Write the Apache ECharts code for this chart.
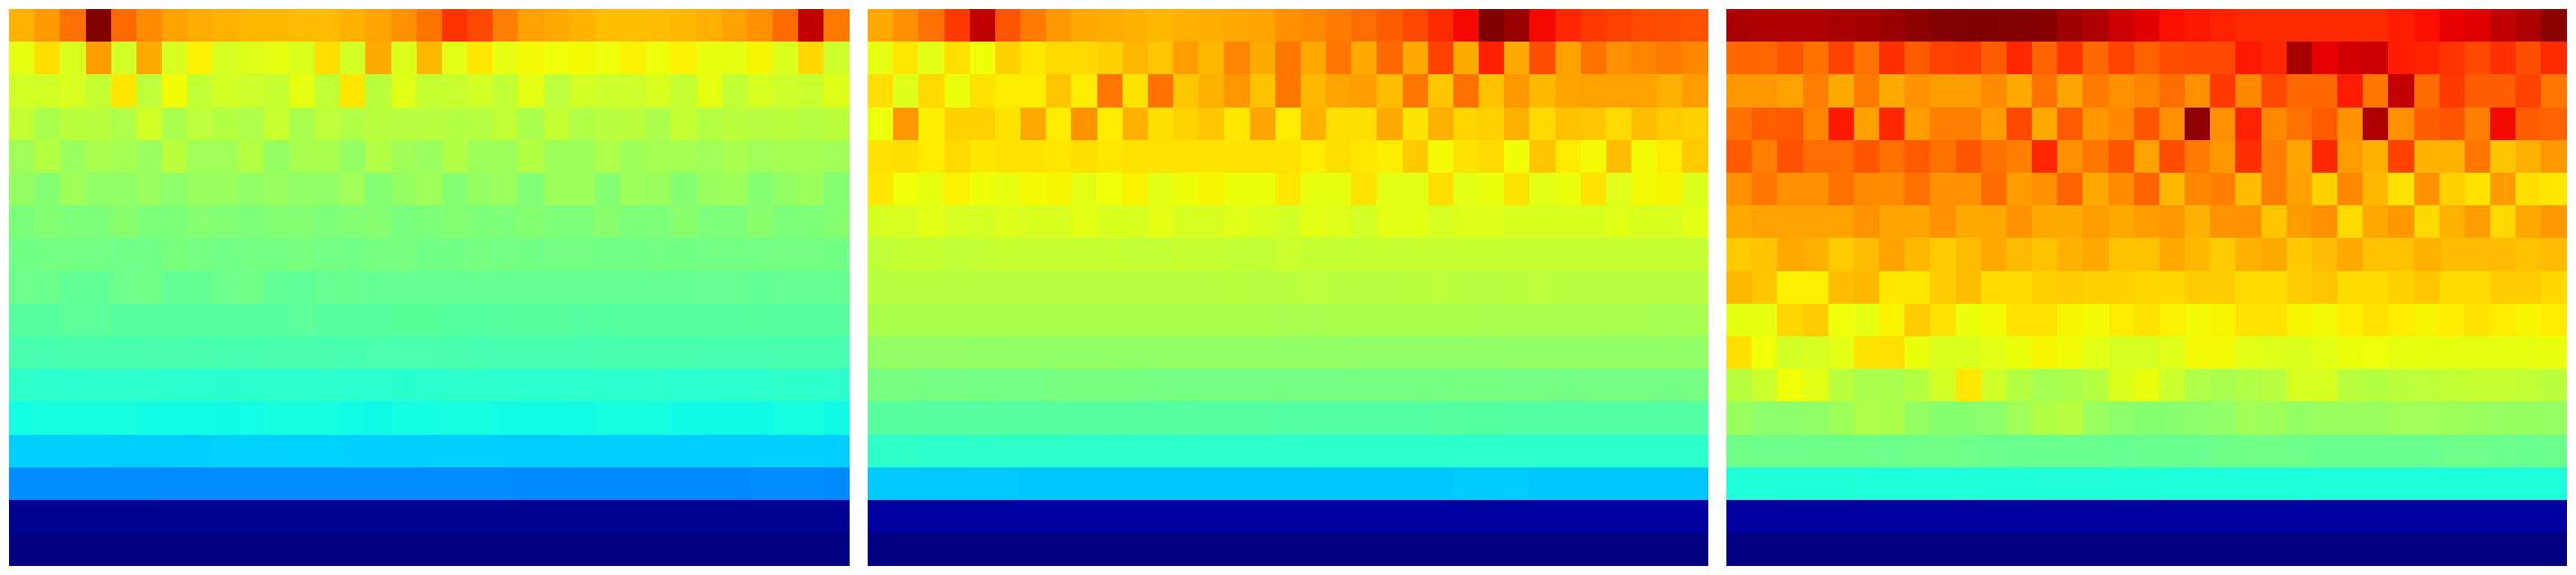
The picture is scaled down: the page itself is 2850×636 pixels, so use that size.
<!DOCTYPE html>
<html>
<head>
<meta charset="utf-8">
<style>html,body{margin:0;padding:0;background:#fff}#c{width:2850px;height:636px}#c svg path{shape-rendering:crispEdges}</style>
<script src="https://cdn.jsdelivr.net/npm/echarts@6/dist/echarts.min.js"></script>
</head>
<body>
<div id="c"></div>
<script>
const panelA = [
[72,74.7,79,100,79.8,76.2,74,72.9,72,71.5,71.5,71.2,71.2,72.4,73.6,75.8,78.7,85.6,83.4,77.5,74,73.2,72,70.9,70.9,71,71.5,72.4,74,75.8,79.8,94.5,78.3],
[63,67.5,61.5,74.5,60.5,73,61,65.5,61,62,63,61.5,67.5,60.5,73,61.5,71.5,62.5,66.5,63,64.5,64,64.5,63.8,65.5,63.8,65.5,63.3,63,65,61.5,68,59.8],
[60.5,60.5,61.3,59,66.5,58,64.3,58.5,60.5,59.7,59,63,58.5,66.5,57.7,62.3,59,59.3,60.5,58.5,62.7,58,60.5,59.7,59.7,61.3,58.7,63,58.5,61,59.7,59.3,62.3],
[59,55.5,57.7,57.5,56,60.5,55.5,58,57,56,59.2,55.5,58,56.5,57.5,57.2,57.5,57,57,58.5,55.5,59,56.5,57.2,57.7,55.7,58.7,56.7,57.7,57.3,57.7,56.7,57.7],
[54.5,57,53.5,55.5,55,53.5,57.7,54.5,54.5,57,53,55.5,55.5,53,56.5,54.5,53.5,56.5,54,54,57,54,54,56,54,55,55,54.5,55.5,54.5,55,55,54.5],
[53,51,54.5,52.5,52.5,53.5,52,53.5,53.5,52.5,53.5,52.5,52.5,54.5,51,53,54.5,51,53,53.5,50.5,54,54,51,54,53.5,51,53.5,54,51.3,53,54,51],
[50,51,50.3,50.3,51.7,50.2,50.2,51.3,50.7,50.3,51,51,50.2,50.8,51.3,49.8,50.3,51,50.2,50.2,51.2,50.2,50.2,51.7,50.2,50.2,51.7,50.2,50.2,51.7,50.2,50.2,51.2],
[48.7,49,49,49,48.5,48.5,49.7,49.1,48.6,49,49,49.6,49,48.6,49.4,49.6,48.6,48.7,49.4,49,48.9,49.2,49.2,48.6,48.6,49,48.9,49,49,49,49.2,49.2,48.8],
[48.3,48,46.7,46.7,48.3,48.5,47,47,48.3,48.5,46.7,46.5,47.5,47.7,47.4,47.4,47.4,47.4,47.4,47.4,47.4,47.4,47.4,47.3,47.3,47.3,47.3,47.5,47.5,46.8,47.2,47.3,47.3],
[45.5,45.5,46.3,46.3,45.7,45.5,45.8,45.8,45.5,45.5,45.5,46.2,45.6,45.6,45.8,46,46,45.3,45.3,45.5,45.9,45.9,45.4,45.3,45.6,45.6,45.5,45.5,45.5,45.9,45.6,45.6,45.6],
[43.8,43.6,43.7,43.8,43.8,43.9,43.9,43.7,43.5,43.6,43.9,43.9,43.7,43.6,44.1,44,44,43.8,43.5,43.5,43.5,43.6,43.6,43.7,43.7,43.7,43.7,43.6,43.6,43.6,43.8,43.8,43.8],
[40.6,40.4,40.3,40.4,40.4,40.5,40.1,40.1,40,40.3,40.4,40.3,40.5,40.1,40.1,39.9,40.3,40.5,40.5,40.4,40.1,40.1,40.4,40.2,40.2,40.4,40.1,40.1,40.3,40.4,40.6,40.6,40.4],
[37.4,37.8,37.8,37.8,37.8,37.2,37.2,37.2,37,37.3,37.8,37.8,37.6,37.2,36.9,37.4,37.4,37.7,37.7,37.1,37.1,37.1,37.1,37.6,37.6,37.6,37,37,37,37,37.6,37.6,37],
[32.9,32.9,32.9,32.8,32.7,32.7,32.7,32.8,33,33,33,33.1,33.1,32.9,32.9,32.9,32.8,32.8,32.8,32.8,32.8,32.8,32.9,32.9,32.9,32.9,32.9,32.8,32.8,32.8,32.8,32.8,32.8],
[26.3,26.3,26.3,26.3,26.3,26.3,26.2,26.2,26.2,26.1,26.1,26.1,26.1,26.1,26.1,26.2,26.2,26.2,26.2,26.2,25.9,25.9,25.9,25.9,25.9,25.9,25.9,25.9,25.9,26.1,26.1,26.1,26],
[1.5,1.5,1.5,1.5,1.5,1.5,1.5,1.5,1.5,1.5,1.5,1.5,1.5,1.5,1.5,1.5,1.5,1.5,1.5,1.5,1.5,1.5,1.5,1.5,1.5,1.5,1.5,1.5,1.5,1.5,1.5,1.5,1.5],
[0,0,0,0,0,0,0,0,0,0,0,0,0,0,0,0,0,0,0,0,0,0,0,0,0,0,0,0,0,0,0,0,0]
];
const panelB = [
[73.2,75.8,79,85,94.5,82,78,75,73.2,72.8,72.4,71.5,72.4,72.6,73.2,73.6,75.8,76.6,78,79.6,81,83.4,86.5,90,100,97.8,90,87,85,84,83,82.8,82.4],
[63,66.5,62.5,67.5,64,69,66.5,68,68,69,71.5,70,74.5,71.5,77,73,78.5,73.2,78.5,73.2,80,73,84,73,87.5,73,82.8,74,79,75.8,77,78,76.6],
[67.5,62,68,63.5,67,65.8,65.8,70,65.8,78.5,67,79,70,72.4,75,70.5,78.5,71.5,73.6,74.5,71,78.5,70,79,70.5,75,71.5,73.6,74,74,74,72.4,74.5],
[63.8,75,65.8,69,69,67,73.2,66,75.5,66,72.4,67.5,68.5,70,66.5,73.6,66,72.4,67.5,67.5,73,67,72.4,68.5,69,72.4,68,70.5,70,68,71,69.5,69],
[67,67.5,66,68,66.5,67,67,66.5,67.5,66.5,67,67,67,67,67,67,67,66,67.5,66.5,65.8,69.5,64.5,67,68,64,70,66,64.5,71,64.5,66,69.5],
[66.5,64,63,65.5,64,63.2,64.5,65,62.5,64,65.3,62.5,64,65,63.5,63.5,66.5,63,63,67,62.5,62.5,67.5,62.5,63.5,67,62.5,63.5,67,62,64.5,65,61.5],
[61,61,62.5,61,60.8,62,61.3,61.3,62.7,61.3,61.3,62.7,61,61,62.3,61.6,60.5,62.5,62,60.5,62.5,62.5,61,62,62,61.3,61.3,61.3,61.3,62.3,61.3,61.3,62.5],
[58.2,58.8,58.8,58.2,58.7,59,59,59,59,59,58.6,58.6,59,59,58.5,58.5,59.5,58.7,58.7,59,59,59,59,59,59,59,59,59,59,59,59,59,59],
[57.3,57.5,57.5,57.5,57.5,57.5,57.5,57.5,57.5,57.5,57.5,57.5,57.5,57.6,57.7,57.5,57.7,57.9,57.5,57.5,57.5,57.7,57.9,57.5,57.5,57.7,57.9,57.5,57.5,57.5,57.5,57.5,57.5],
[55.7,55.7,55.7,55.7,55.7,55.7,55.5,55.5,55.5,55.5,55.6,55.6,55.6,55.6,55.6,55.6,55.4,55.3,55.6,55.6,55.6,55.6,55.6,55.6,55.4,55.4,55.4,55.4,55.4,55.3,55.3,55,55.3],
[52.9,52.9,52.9,52.9,52.7,52.7,52.7,52.7,52.7,52.7,52.8,52.8,52.8,52.8,52.8,52.8,52.8,52.8,52.8,52.6,52.6,52.6,52.6,52.6,52.6,52.7,52.7,52.7,52.7,52.8,52.8,52.7,52.7],
[49.6,49.6,49.3,49.3,49,49,49,49.6,49.6,49.6,49.5,49.3,49.3,49.3,49.3,49.2,49.2,49.2,49.2,49.2,49.2,49.2,49.2,49.4,49.4,49.2,49.2,49,49.2,49.2,49.2,49,49.2],
[45.6,45.6,45.5,45.5,45.6,45.5,45.5,45.5,45.4,45.4,45.4,45.4,45.6,45.4,45.4,45.4,45.2,45.2,45.2,45.2,45.2,45.2,45.4,45.3,45.3,45.2,45.2,45.2,45.2,45.2,45.2,45.2,45.2],
[40.6,40.6,40.4,40.4,40.5,40.5,40.5,40.5,40.5,40.5,40.4,40.4,40.4,40.4,40.4,40.4,40.4,40.3,40.3,40.3,40.3,40.3,40.3,40.3,40.3,40.3,40.3,40.3,40.3,40.3,40.3,40.3,40.3],
[32.2,32.2,32.2,32.2,32.2,32.2,32.1,32.1,32.1,32.1,32.1,32.1,32.1,32.1,32.1,32.1,32.1,32.1,32.1,32.1,32.1,32.1,32.1,32.5,32.5,32.5,32.1,32.1,32.1,32.1,32.1,32.1,32.1],
[2.8,2.8,2.8,2.8,2.8,2.8,2.8,2.8,2.8,2.8,2.8,2.8,2.8,2.8,2.8,2.8,2.8,2.8,2.8,2.8,2.8,2.8,2.8,2.8,2.8,2.8,2.8,2.8,2.8,2.8,2.8,2.8,2.8],
[0,0,0,0,0,0,0,0,0,0,0,0,0,0,0,0,0,0,0,0,0,0,0,0,0,0,0,0,0,0,0,0,0]
];
const panelC = [
[96.5,96,96,96,96.5,96.8,97.8,99,99.8,100,100,99.8,99.5,97.3,96,93.4,91.7,89.3,88.5,87.5,86.5,86.5,86.5,86.5,86.5,86.5,88,89.3,91,92,94.5,96,99],
[80,80,82,79,84,79,86,81.5,84,84.6,81.5,87,80.6,85.5,80,83.8,80.6,82.8,83.4,83.4,88.5,87,96.5,91,93,93.4,88,87.5,85.5,83.4,86,82.8,86.5],
[75,75,74,77.5,73,78,73,75.5,74.5,74.5,76.2,73.2,79,73.6,78,75.8,77,79.6,75.8,85,76.6,83.4,80,80,88,78.5,94.2,79.6,85,81,81,84,78.5],
[79,81,81.5,77,88.5,74,87,74.5,77.5,77.5,74.5,83.4,73.2,81.5,75,76.6,82,75.8,98.6,75.8,87.5,76.6,79,81.5,75.5,96,75.8,81,82,77.5,90,81,80.6],
[81.5,77.5,82.4,79.6,79.6,82,79,81.5,79,82,79,77.5,87,75.8,78.5,82,74,83,78,75,86,77.5,73.6,87,74.5,72.4,84,72,72,78.5,70,72.4,75],
[75.8,78.5,75.8,75.8,79,76.2,76.2,79,75.5,75.8,79.6,74.5,75.8,80.6,73.2,76.2,80.6,71.5,76.6,77.5,71,77.5,74,69,76.6,71.5,67,75.5,69,67,74.5,67.5,66.5],
[73.2,74,74,74,74,75.5,73.6,73.6,75.8,73,73.2,75.5,73.2,73,74.5,73.2,74.5,75,72,75.5,75.5,70,74.5,75.8,68,73.2,75,68,72.4,74.5,68,73.2,75],
[69.5,70,73.2,72.4,69.5,71,74,71.5,69.5,71,73.2,71.2,70.5,72.4,73.2,70.5,70.5,73.2,71.5,69.5,72.4,73,69.5,71,73,70.5,70.5,72.4,71,71,71.2,70.5,71],
[71.5,70,65.6,65.6,71,71.5,66.4,66.4,69.4,71,67.7,67.7,69,69.4,69,69,68.1,68.1,69.4,69.4,67.7,67.7,69.4,70,67.7,67.7,69,70,67.7,67.7,69.4,69.4,68.1],
[63,63,68.5,69.5,64,63,65.3,69.5,67,63.5,64.5,67,67,65,64.5,66,67,65.5,64.5,65,67,67,65,64.5,66,67,66,65,66,67,66,65,66],
[67.5,64,60.5,61,62.5,67,67.5,63.5,61.5,61.5,62.5,63.5,65,64.3,62.5,61,61,62,64.5,64.5,62.5,62,61.5,62.5,63.5,63.8,63,63,63,63,63,63,63.3],
[57.5,59.5,64,62.5,57.5,55.5,55.5,57,60.5,66.5,60,57,55,55.5,57,61.5,63.5,59.5,56.5,55.5,56.5,57.3,61,61,57.5,57,57.7,58,58.5,59,59,58.5,57.7],
[53.5,52,52,52.5,54,56,55.8,53,51.5,51.5,52,54.5,56.5,57.3,53.5,52,51.5,51.5,52,52.5,54.5,54,53,53.7,53.7,53.7,54.5,54.5,54.2,53.5,53.3,53.3,53.3],
[48.5,48.3,48.2,48.4,48.4,48.4,48.1,48.6,48.6,48.3,47.9,47.6,47.6,47.6,47.6,47.4,47.6,47.8,47.8,48.4,48.6,48.6,48.2,47.8,47.6,47.6,47.6,47.8,48.2,48.2,48,47.8,48],
[38.6,38.6,38.7,38.7,38.7,38.5,38.5,38.5,38.5,38.6,38.7,38.7,38.9,38.9,38.9,38.7,38.7,38.5,38.5,38.5,38.4,38.4,38.4,38.5,38.5,38.5,38.5,38.5,38.5,38.5,38.5,38.5,38.5],
[2.8,2.8,2.8,2.8,2.8,2.8,2.8,2.8,2.8,2.8,2.8,2.8,2.8,2.8,2.8,2.8,2.8,2.8,2.8,2.8,2.8,2.8,2.8,2.8,2.8,2.8,2.8,2.8,2.8,2.8,2.8,2.8,2.8],
[0,0,0,0,0,0,0,0,0,0,0,0,0,0,0,0,0,0,0,0,0,0,0,0,0,0,0,0,0,0,0,0,0]
];
const panels = [panelA, panelB, panelC];
const gridLeft = [10.25, 960.25, 1910.25];

// matplotlib-style jet colormap as a palette for the visualMap
function seg(pts, t) {
  for (let i = 1; i < pts.length; i++) {
    if (t <= pts[i][0]) {
      const a = pts[i - 1], b = pts[i];
      return a[1] + (b[1] - a[1]) * (t - a[0]) / (b[0] - a[0]);
    }
  }
  return pts[pts.length - 1][1];
}
const R = [[0,0],[.35,0],[.66,1],[.89,1],[1,.5]];
const G = [[0,0],[.125,0],[.375,1],[.64,1],[.91,0],[1,0]];
const B = [[0,.5],[.11,1],[.34,1],[.65,0],[1,0]];
const jet = [];
for (let i = 0; i <= 400; i++) {
  const t = i / 400;
  const c = [R, G, B].map(p => Math.round(255 * seg(p, t)));
  jet.push('rgb(' + c.join(',') + ')');
}

const chart = echarts.init(document.getElementById('c'), null, { renderer: 'svg' });
const nCols = panelA[0].length, nRows = panelA.length;
const xCats = Array.from({ length: nCols }, (_, i) => String(i));
const yCats = Array.from({ length: nRows }, (_, i) => String(i));

chart.setOption({
  animation: false,
  backgroundColor: '#fff',
  grid: gridLeft.map(l => ({ left: l, top: 10.25, width: 929.5, height: 615.5 })),
  xAxis: gridLeft.map((_, i) => ({ type: 'category', gridIndex: i, data: xCats, show: false })),
  yAxis: gridLeft.map((_, i) => ({ type: 'category', gridIndex: i, data: yCats, inverse: true, show: false })),
  visualMap: {
    show: false, type: 'continuous', min: 0, max: 100,
    seriesIndex: [0, 1, 2], inRange: { color: jet }
  },
  series: panels.map((m, i) => ({
    type: 'heatmap', xAxisIndex: i, yAxisIndex: i,
    progressive: 0,
    itemStyle: { borderWidth: 0 },
    data: m.flatMap((row, y) => row.map((v, x) => [x, y, v]))
  }))
});
</script>
</body>
</html>
